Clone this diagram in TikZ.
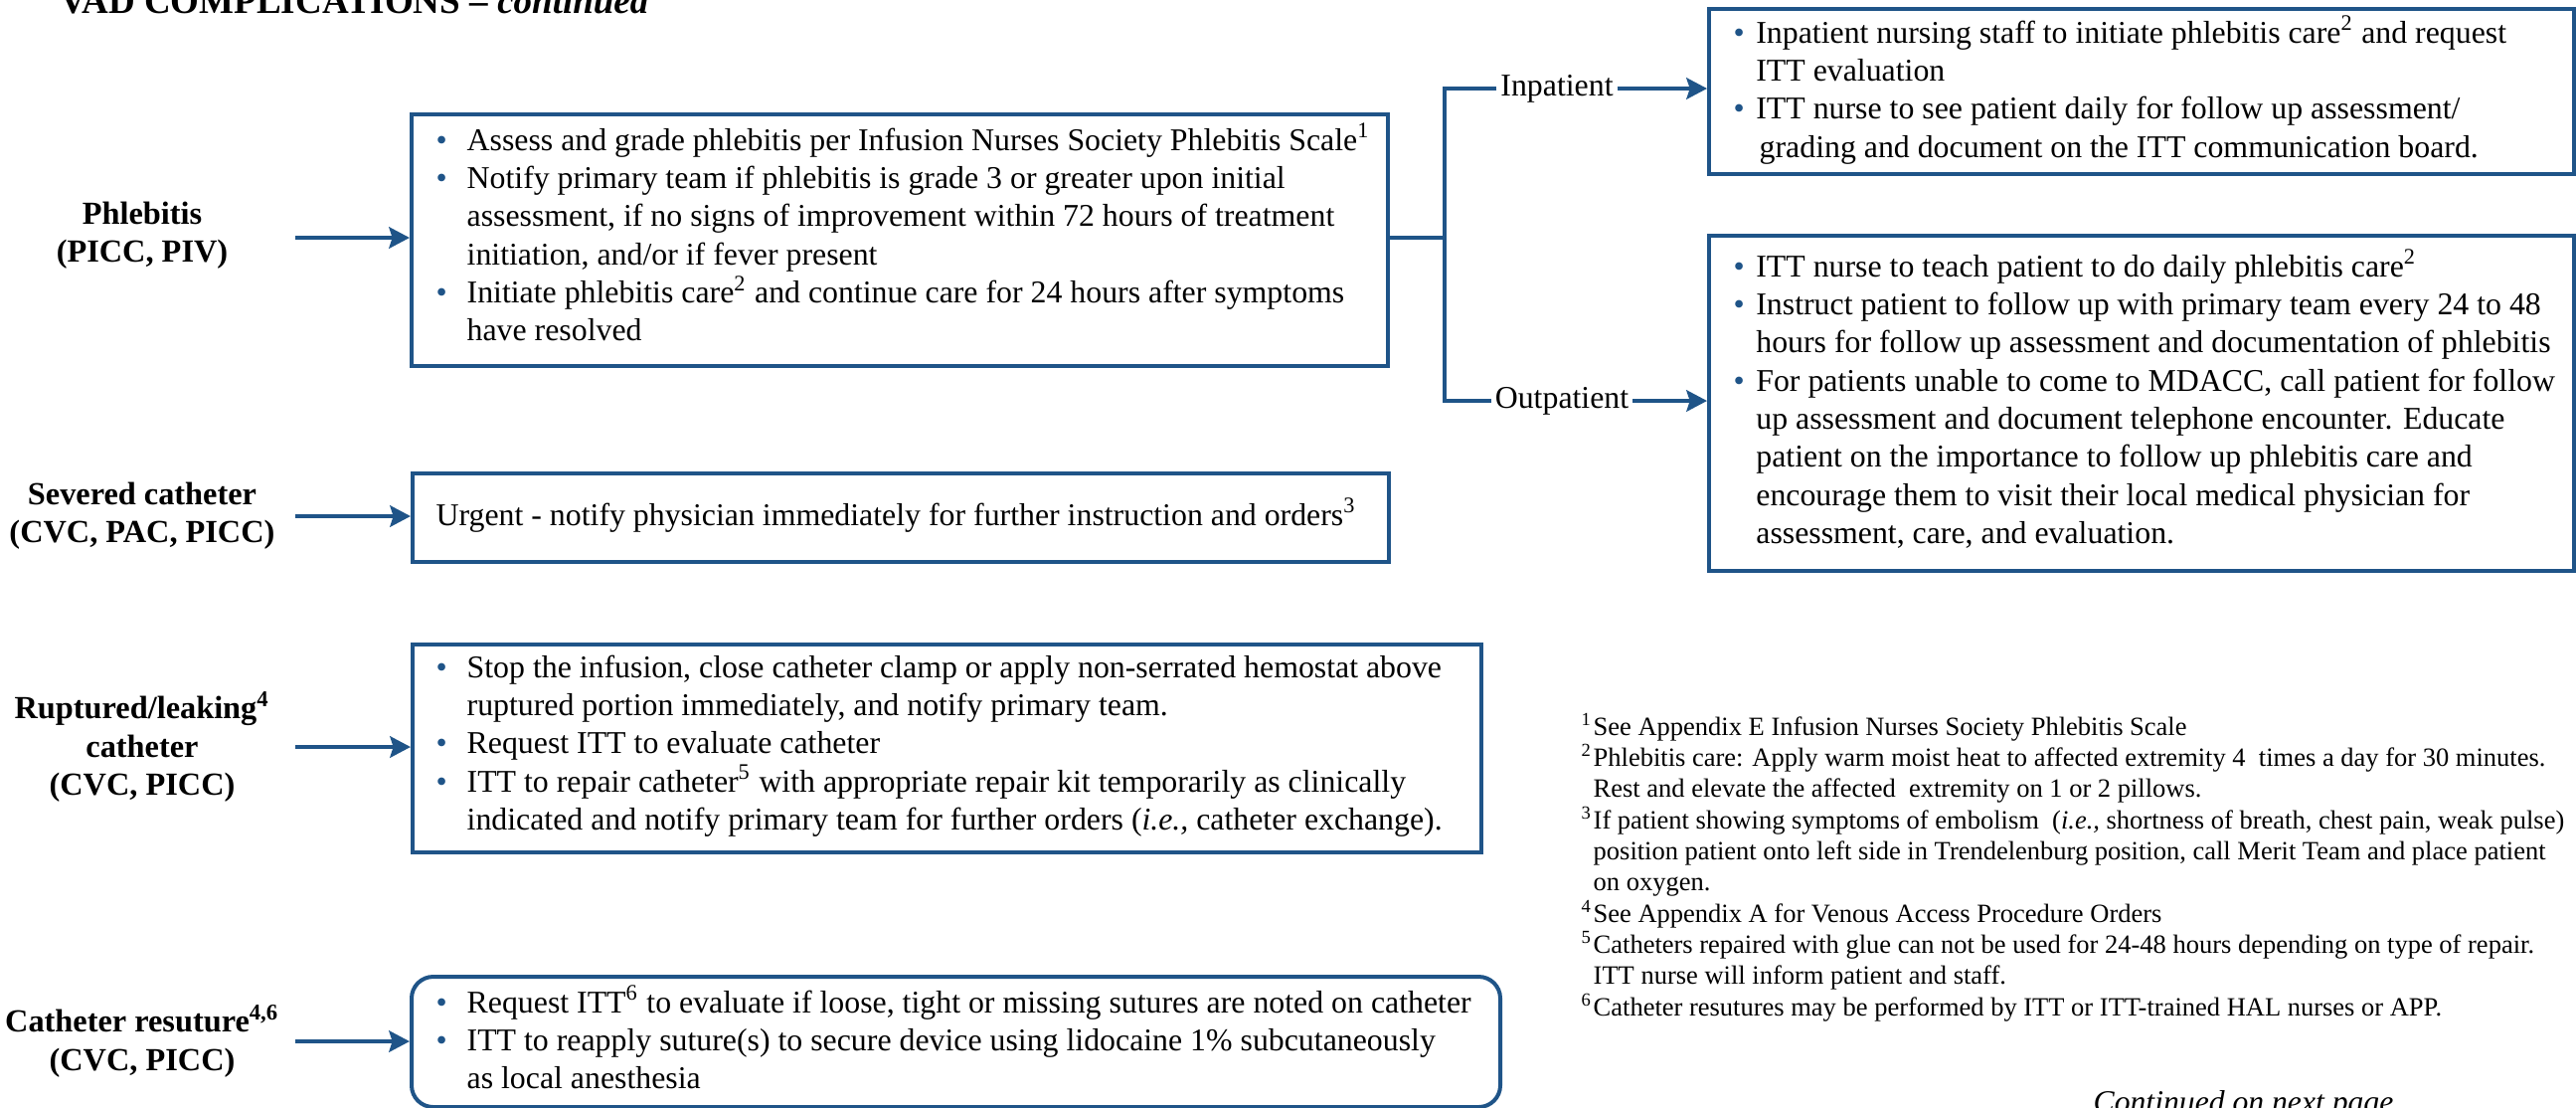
\documentclass[tikz,border=0pt]{standalone}
\usepackage{fontspec}
\setmainfont{Liberation Serif}
\usetikzlibrary{arrows.meta}
\definecolor{vad}{RGB}{31,84,136}
% blue bullet in a box of the given width
\newcommand{\bx}[1]{\makebox[#1][l]{\textcolor{vad}{\textbullet}}}
% raised footnote number in a fixed-width box
\newcommand{\fnum}[1]{\makebox[3.6pt][l]{\textsuperscript{#1}}}
\begin{document}
\begin{tikzpicture}[x=0.3pt,y=-0.3pt,
  box/.style={draw=vad, line width=1.2pt, inner sep=0pt, anchor=north west},
  conn/.style={draw=vad, line width=1.2pt},
  arr/.style={conn, -{Stealth[length=6.2pt,width=6.4pt,inset=1pt]}},
  body/.style={inner sep=0pt, anchor=base west, font=\fontsize{9.55}{11.5}\selectfont},
  lab/.style={inner sep=0pt, anchor=center, align=center, font=\fontsize{9.7}{11.5}\selectfont\bfseries},
  branch/.style={inner sep=1pt, anchor=center, font=\fontsize{9.55}{11.5}\selectfont},
  notes/.style={inner sep=0pt, anchor=base west, font=\fontsize{7.95}{9.4}\selectfont}]
\useasboundingbox (0,0) rectangle (2591,1113);

% heading
\node[inner sep=0pt, anchor=base west, font=\fontsize{11.1}{13}\selectfont\bfseries] (title) at (60,13)
  {VAD COMPLICATIONS -- \textit{continued}};

% complication labels
\node[lab] (phl) at (143,237) {Phlebitis\\(PICC, PIV)};
\node[lab] (sev) at (143,519) {Severed catheter\\(CVC, PAC, PICC)};
\node[lab] (rup) at (143,751) {Ruptured/leaking\textsuperscript{4}\\catheter\\(CVC, PICC)};
\node[lab] (res) at (143,1047) {Catheter resuture\textsuperscript{4,6}\\(CVC, PICC)};

% action boxes
\node[box, minimum width=982*0.3pt, minimum height=253*0.3pt] (phbox) at (412,113) {};
\node[box, minimum width=982*0.3pt, minimum height=89*0.3pt] (sevbox) at (413,474) {};
\node[box, minimum width=1075*0.3pt, minimum height=209*0.3pt] (rupbox) at (413,646) {};
\node[box, rounded corners=6.5pt, minimum width=1095*0.3pt, minimum height=131*0.3pt] (resbox) at (412,980) {};
\node[box, minimum width=870*0.3pt, minimum height=166*0.3pt] (inbox) at (1717,7) {};
\node[box, minimum width=870*0.3pt, minimum height=337*0.3pt] (outbox) at (1717,235) {};

% box texts
\node[body] (phtext) at (438,151) {\begin{tabular}[t]{@{}l@{}l@{}}
\bx{9.3pt} & Assess and grade phlebitis per Infusion Nurses Society Phlebitis Scale\textsuperscript{1}\\
\bx{9.3pt} & Notify primary team if phlebitis is grade 3 or greater upon initial\\
 & assessment, if no signs of improvement within 72 hours of treatment\\
 & initiation, and/or if fever present\\
\bx{9.3pt} & Initiate phlebitis care\textsuperscript{2} and continue care for 24 hours after symptoms\\
 & have resolved
\end{tabular}};

\node[body] (sevtext) at (438,528)
  {Urgent - notify physician immediately for further instruction and orders\textsuperscript{3}};

\node[body] (ruptext) at (438,681) {\begin{tabular}[t]{@{}l@{}l@{}}
\bx{9.3pt} & Stop the infusion, close catheter clamp or apply non-serrated hemostat above\\
 & ruptured portion immediately, and notify primary team.\\
\bx{9.3pt} & Request ITT to evaluate catheter\\
\bx{9.3pt} & ITT to repair catheter\textsuperscript{5} with appropriate repair kit temporarily as clinically\\
 & indicated and notify primary team for further orders (\textit{i.e.,} catheter exchange).
\end{tabular}};

\node[body] (restext) at (438,1018) {\begin{tabular}[t]{@{}l@{}l@{}}
\bx{9.3pt} & Request ITT\textsuperscript{6} to evaluate if loose, tight or missing sutures are noted on catheter\\
\bx{9.3pt} & ITT to reapply suture(s) to secure device using lidocaine 1\% subcutaneously\\
 & as local anesthesia
\end{tabular}};

\node[body] (intext) at (1743,43) {\begin{tabular}[t]{@{}l@{}l@{}}
\bx{6.8pt} & Inpatient nursing staff to initiate phlebitis care\textsuperscript{2} and request\\
 & ITT evaluation\\
\bx{6.8pt} & ITT nurse to see patient daily for follow up assessment/\\
 & \hspace{1pt}grading and document on the ITT communication board.
\end{tabular}};

\node[body] (outtext) at (1743,278) {\begin{tabular}[t]{@{}l@{}l@{}}
\bx{6.8pt} & ITT nurse to teach patient to do daily phlebitis care\textsuperscript{2}\\
\bx{6.8pt} & Instruct patient to follow up with primary team every 24 to 48\\
 & hours for follow up assessment and documentation of phlebitis\\
\bx{6.8pt} & For patients unable to come to MDACC, call patient for follow\\
 & up assessment and document telephone encounter. Educate\\
 & patient on the importance to follow up phlebitis care and\\
 & encourage them to visit their local medical physician for\\
 & assessment, care, and evaluation.
\end{tabular}};

% branch labels
\node[branch] (inlab) at (1566,89) {Inpatient};
\node[branch] (outlab) at (1571,403) {Outpatient};

% footnotes
\node[notes] (notes) at (1590,739) {\begin{tabular}[t]{@{}l@{}l@{}}
\fnum{1} & See Appendix E Infusion Nurses Society Phlebitis Scale\\
\fnum{2} & Phlebitis care: Apply warm moist heat to affected extremity 4\ \ times a day for 30 minutes.\\
 & Rest and elevate the affected\ \ extremity on 1 or 2 pillows.\\
\fnum{3} & If patient showing symptoms of embolism\ \ (\textit{i.e.,} shortness of breath, chest pain, weak pulse)\\
 & position patient onto left side in Trendelenburg position, call Merit Team and place patient\\
 & on oxygen.\\
\fnum{4} & See Appendix A for Venous Access Procedure Orders\\
\fnum{5} & Catheters repaired with glue can not be used for 24-48 hours depending on type of repair.\\
 & ITT nurse will inform patient and staff.\\
\fnum{6} & Catheter resutures may be performed by ITT or ITT-trained HAL nurses or APP.
\end{tabular}};

\node[inner sep=0pt, anchor=base west, font=\fontsize{9.5}{11}\selectfont\itshape] (cont) at (2105,1118)
  {Continued on next page};

% connectors
\coordinate (pa) at (297,239);
\coordinate (sa) at (297,519);
\coordinate (ra) at (297,751);
\coordinate (ca) at (297,1047);
\draw[arr] (pa) -- (pa -| phbox.west);
\draw[arr] (sa) -- (sa -| sevbox.west);
\draw[arr] (ra) -- (ra -| rupbox.west);
\draw[arr] (ca) -- (ca -| resbox.west);

\coordinate (bm) at (1453,239);
\coordinate (bt) at (1453,89);
\coordinate (bb) at (1453,403);
\draw[conn] (phbox.east |- bm) -- (bm);
\draw[conn] (inlab.west) -- (bt) -- (bb) -- (outlab.west);
\draw[arr] (inlab.east) -- (inlab.east -| inbox.west);
\draw[arr] (outlab.east) -- (outlab.east -| outbox.west);
\end{tikzpicture}
\end{document}
